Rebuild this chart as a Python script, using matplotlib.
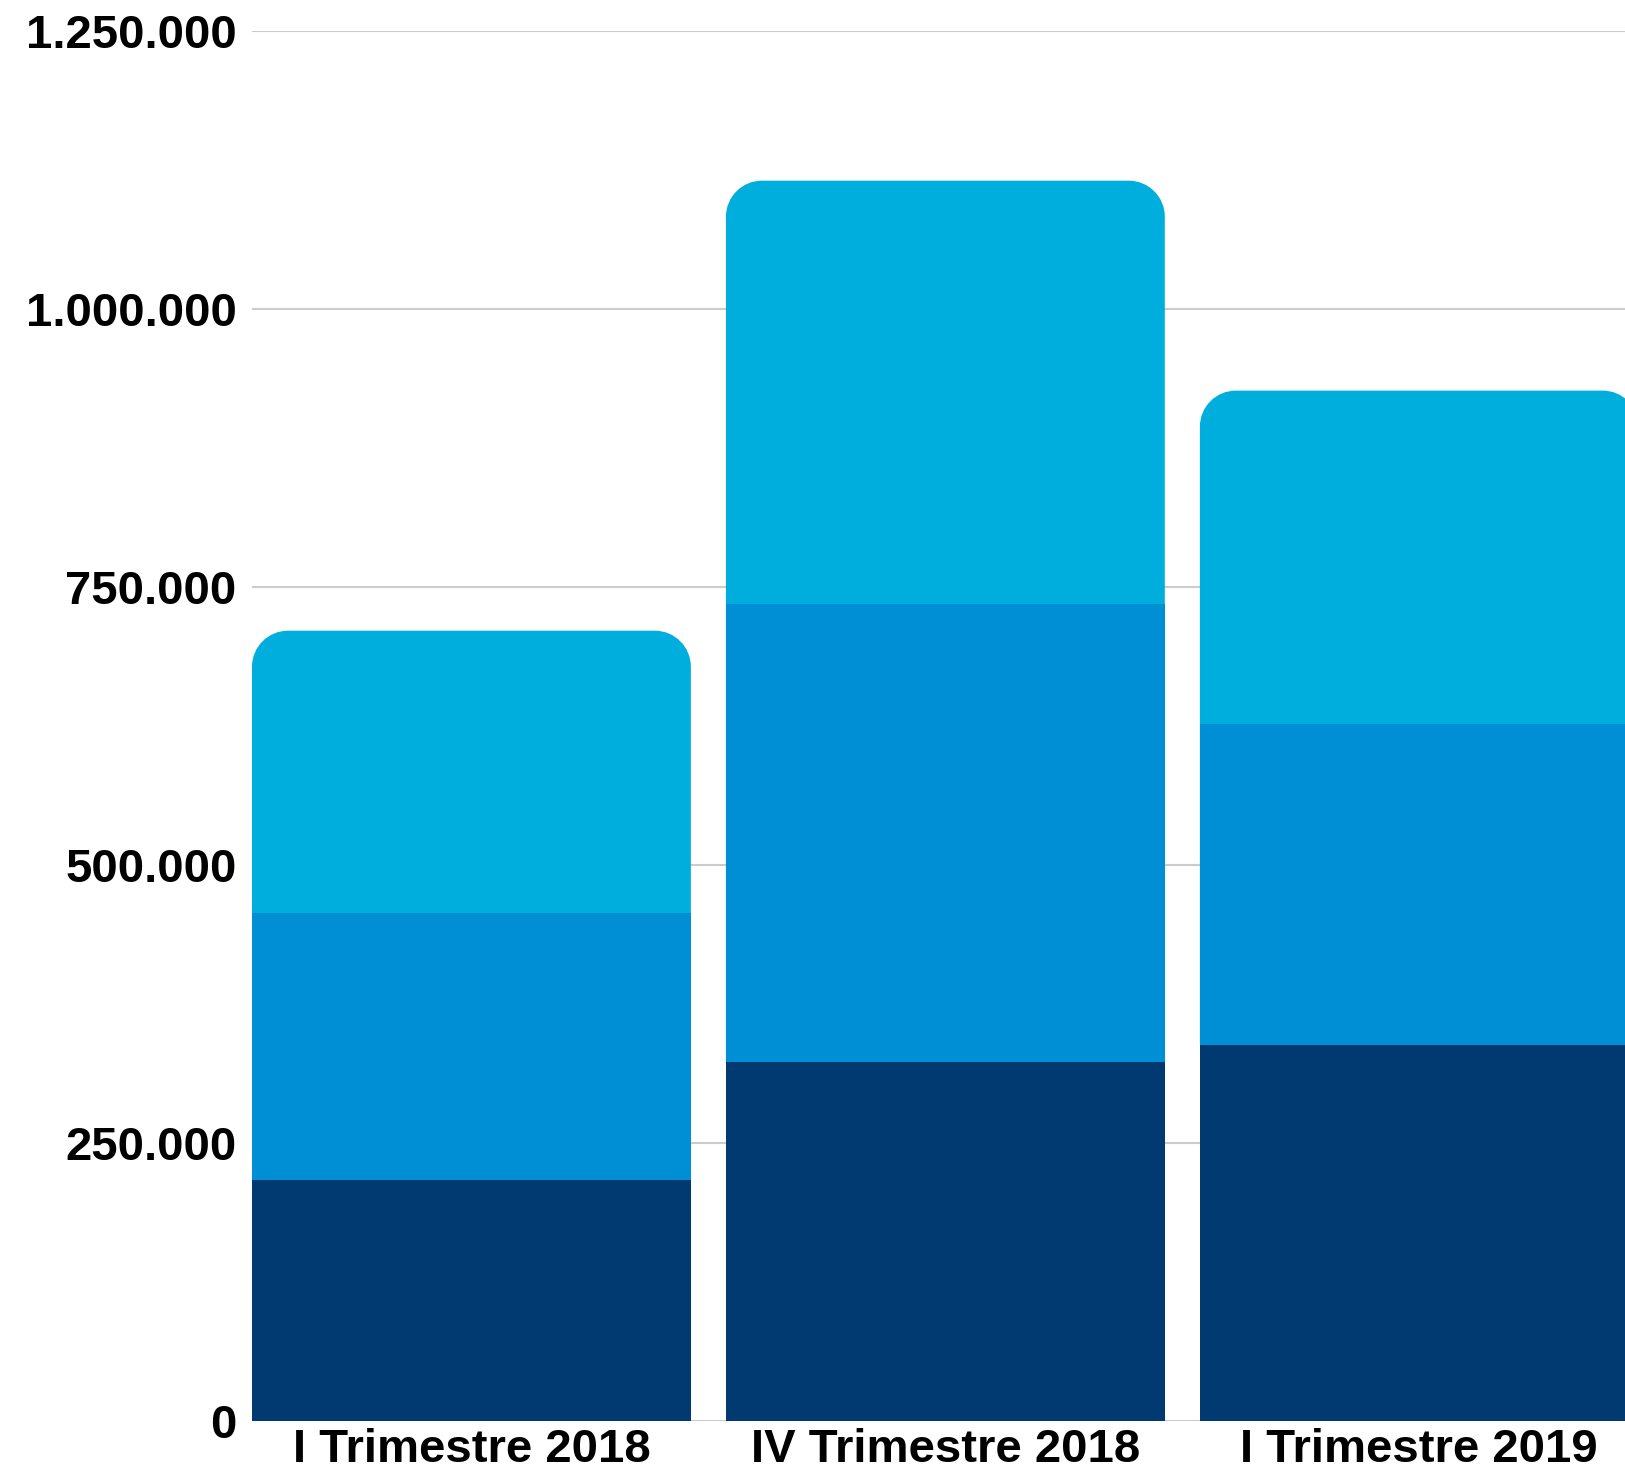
import numpy as np
import matplotlib.pyplot as plt
from matplotlib.patches import PathPatch
from matplotlib.path import Path
from matplotlib.ticker import FuncFormatter

plt.rcParams['font.family'] = ['Liberation Sans', 'DejaVu Sans']

trimestri = ["I Trimestre 2018", "IV Trimestre 2018", "I Trimestre 2019"]
serie_1 = [216600, 323100, 338400]
serie_2 = [240600, 411500, 288800]
serie_3 = [253500, 380800, 299400]

colori = ["#003a70", "#008fd5", "#00aedd"]

fig = plt.figure(figsize=(16.25, 14.71), dpi=100)
ax = fig.add_axes([252 / 1625, 50 / 1471, 1 - 252 / 1625, 1 - 81 / 1471])

x = np.arange(len(trimestri))
larghezza = 0.926

# raggio degli angoli in pixel, convertito in unita' dati
raggio_px = 36
rx = raggio_px / 474
ry = raggio_px / 1111.2 * 1e6
k = 0.5523  # approssimazione dell'arco con bezier cubica


def barra_arrotondata(xc, base, top):
    x0, x1 = xc - larghezza / 2, xc + larghezza / 2
    verts = [
        (x0, base), (x1, base), (x1, top - ry),
        (x1, top - ry + k * ry), (x1 - rx + k * rx, top), (x1 - rx, top),
        (x0 + rx, top),
        (x0 + rx - k * rx, top), (x0, top - ry + k * ry), (x0, top - ry),
        (x0, base),
    ]
    codes = [Path.MOVETO, Path.LINETO, Path.LINETO,
             Path.CURVE4, Path.CURVE4, Path.CURVE4,
             Path.LINETO,
             Path.CURVE4, Path.CURVE4, Path.CURVE4,
             Path.CLOSEPOLY]
    return PathPatch(Path(verts, codes), facecolor=colori[2], edgecolor="none", zorder=1.5)


b1 = np.array(serie_1)
b2 = b1 + np.array(serie_2)
totale = b2 + np.array(serie_3)
ax.bar(x, serie_1, width=larghezza, color=colori[0], zorder=2)
ax.bar(x, serie_2, width=larghezza, bottom=b1, color=colori[1], zorder=2)
# l'ultima serie parte da sotto le altre per non lasciare filo bianco
for xi, base, top in zip(x, b1, totale):
    ax.add_patch(barra_arrotondata(xi, base, top))

ax.set_xlim(-0.463, 2.434)
ax.set_ylim(0, 1250000)
ax.set_yticks(np.arange(0, 1250001, 250000))
ax.yaxis.set_major_formatter(FuncFormatter(lambda v, pos: f"{int(v):,}".replace(",", ".")))
ax.set_xticks(x)
ax.set_xticklabels(trimestri)

ax.grid(axis="y", color="#cccccc", linewidth=1.5, zorder=0)
ax.set_axisbelow(True)
for s in ax.spines.values():
    s.set_visible(False)
ax.tick_params(axis="both", length=0, labelsize=34, width=0)
ax.tick_params(axis="y", pad=11)
ax.tick_params(axis="x", pad=5)
for lab in ax.get_xticklabels() + ax.get_yticklabels():
    lab.set_fontweight("bold")

fig.savefig("out.png", dpi=100)
